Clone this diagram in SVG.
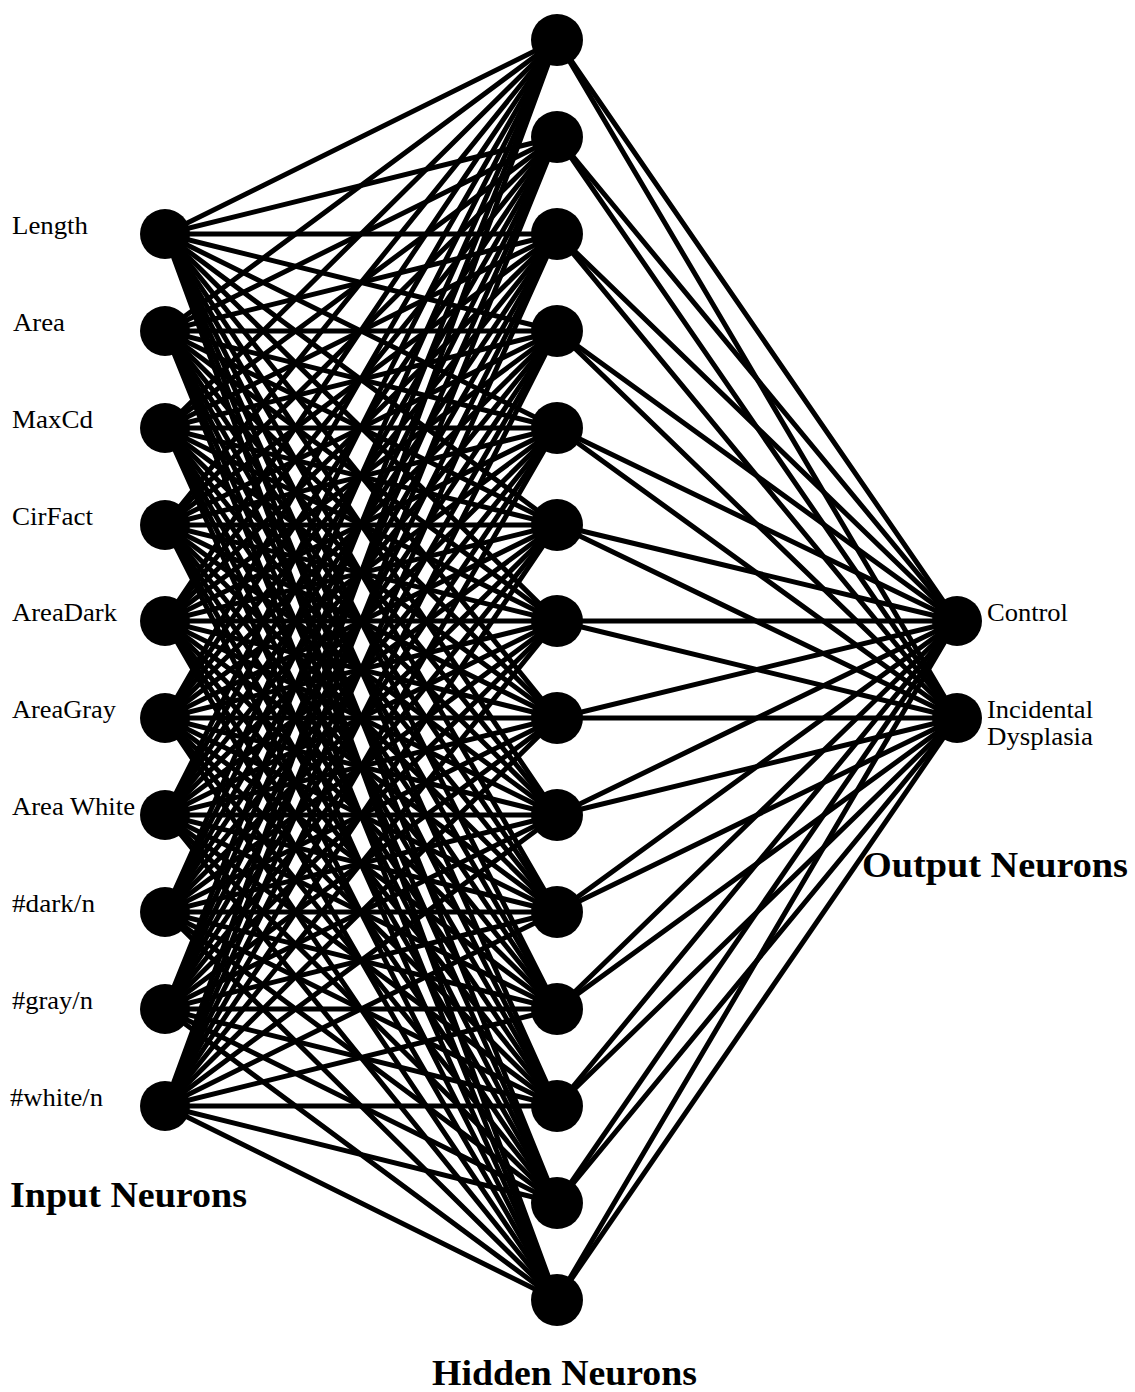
<svg xmlns="http://www.w3.org/2000/svg" width="1135" height="1392" viewBox="0 0 1135 1392">
<style>
.c line{stroke:#000;stroke-width:5;stroke-linecap:round}
.n{fill:#000}
.lb{font-family:"Liberation Serif","Times New Roman",serif;font-size:25px;fill:#000}
.tt{font-family:"Liberation Serif","Times New Roman",serif;font-size:36px;font-weight:bold;fill:#000}
</style>
<rect width="1135" height="1392" fill="#fff"/>
<g id="connectors" class="c">
<g id="in-hid">
<line x1="165" y1="234" x2="557" y2="40"/><line x1="165" y1="234" x2="557" y2="137"/><line x1="165" y1="234" x2="557" y2="234"/><line x1="165" y1="234" x2="557" y2="331"/><line x1="165" y1="234" x2="557" y2="428"/><line x1="165" y1="234" x2="557" y2="525"/><line x1="165" y1="234" x2="557" y2="621"/><line x1="165" y1="234" x2="557" y2="718"/><line x1="165" y1="234" x2="557" y2="815"/><line x1="165" y1="234" x2="557" y2="912"/><line x1="165" y1="234" x2="557" y2="1009"/><line x1="165" y1="234" x2="557" y2="1106"/><line x1="165" y1="234" x2="557" y2="1203"/><line x1="165" y1="234" x2="557" y2="1300"/>
<line x1="165" y1="331" x2="557" y2="40"/><line x1="165" y1="331" x2="557" y2="137"/><line x1="165" y1="331" x2="557" y2="234"/><line x1="165" y1="331" x2="557" y2="331"/><line x1="165" y1="331" x2="557" y2="428"/><line x1="165" y1="331" x2="557" y2="525"/><line x1="165" y1="331" x2="557" y2="621"/><line x1="165" y1="331" x2="557" y2="718"/><line x1="165" y1="331" x2="557" y2="815"/><line x1="165" y1="331" x2="557" y2="912"/><line x1="165" y1="331" x2="557" y2="1009"/><line x1="165" y1="331" x2="557" y2="1106"/><line x1="165" y1="331" x2="557" y2="1203"/><line x1="165" y1="331" x2="557" y2="1300"/>
<line x1="165" y1="428" x2="557" y2="40"/><line x1="165" y1="428" x2="557" y2="137"/><line x1="165" y1="428" x2="557" y2="234"/><line x1="165" y1="428" x2="557" y2="331"/><line x1="165" y1="428" x2="557" y2="428"/><line x1="165" y1="428" x2="557" y2="525"/><line x1="165" y1="428" x2="557" y2="621"/><line x1="165" y1="428" x2="557" y2="718"/><line x1="165" y1="428" x2="557" y2="815"/><line x1="165" y1="428" x2="557" y2="912"/><line x1="165" y1="428" x2="557" y2="1009"/><line x1="165" y1="428" x2="557" y2="1106"/><line x1="165" y1="428" x2="557" y2="1203"/><line x1="165" y1="428" x2="557" y2="1300"/>
<line x1="165" y1="525" x2="557" y2="40"/><line x1="165" y1="525" x2="557" y2="137"/><line x1="165" y1="525" x2="557" y2="234"/><line x1="165" y1="525" x2="557" y2="331"/><line x1="165" y1="525" x2="557" y2="428"/><line x1="165" y1="525" x2="557" y2="525"/><line x1="165" y1="525" x2="557" y2="621"/><line x1="165" y1="525" x2="557" y2="718"/><line x1="165" y1="525" x2="557" y2="815"/><line x1="165" y1="525" x2="557" y2="912"/><line x1="165" y1="525" x2="557" y2="1009"/><line x1="165" y1="525" x2="557" y2="1106"/><line x1="165" y1="525" x2="557" y2="1203"/><line x1="165" y1="525" x2="557" y2="1300"/>
<line x1="165" y1="621" x2="557" y2="40"/><line x1="165" y1="621" x2="557" y2="137"/><line x1="165" y1="621" x2="557" y2="234"/><line x1="165" y1="621" x2="557" y2="331"/><line x1="165" y1="621" x2="557" y2="428"/><line x1="165" y1="621" x2="557" y2="525"/><line x1="165" y1="621" x2="557" y2="621"/><line x1="165" y1="621" x2="557" y2="718"/><line x1="165" y1="621" x2="557" y2="815"/><line x1="165" y1="621" x2="557" y2="912"/><line x1="165" y1="621" x2="557" y2="1009"/><line x1="165" y1="621" x2="557" y2="1106"/><line x1="165" y1="621" x2="557" y2="1203"/><line x1="165" y1="621" x2="557" y2="1300"/>
<line x1="165" y1="718" x2="557" y2="40"/><line x1="165" y1="718" x2="557" y2="137"/><line x1="165" y1="718" x2="557" y2="234"/><line x1="165" y1="718" x2="557" y2="331"/><line x1="165" y1="718" x2="557" y2="428"/><line x1="165" y1="718" x2="557" y2="525"/><line x1="165" y1="718" x2="557" y2="621"/><line x1="165" y1="718" x2="557" y2="718"/><line x1="165" y1="718" x2="557" y2="815"/><line x1="165" y1="718" x2="557" y2="912"/><line x1="165" y1="718" x2="557" y2="1009"/><line x1="165" y1="718" x2="557" y2="1106"/><line x1="165" y1="718" x2="557" y2="1203"/><line x1="165" y1="718" x2="557" y2="1300"/>
<line x1="165" y1="815" x2="557" y2="40"/><line x1="165" y1="815" x2="557" y2="137"/><line x1="165" y1="815" x2="557" y2="234"/><line x1="165" y1="815" x2="557" y2="331"/><line x1="165" y1="815" x2="557" y2="428"/><line x1="165" y1="815" x2="557" y2="525"/><line x1="165" y1="815" x2="557" y2="621"/><line x1="165" y1="815" x2="557" y2="718"/><line x1="165" y1="815" x2="557" y2="815"/><line x1="165" y1="815" x2="557" y2="912"/><line x1="165" y1="815" x2="557" y2="1009"/><line x1="165" y1="815" x2="557" y2="1106"/><line x1="165" y1="815" x2="557" y2="1203"/><line x1="165" y1="815" x2="557" y2="1300"/>
<line x1="165" y1="912" x2="557" y2="40"/><line x1="165" y1="912" x2="557" y2="137"/><line x1="165" y1="912" x2="557" y2="234"/><line x1="165" y1="912" x2="557" y2="331"/><line x1="165" y1="912" x2="557" y2="428"/><line x1="165" y1="912" x2="557" y2="525"/><line x1="165" y1="912" x2="557" y2="621"/><line x1="165" y1="912" x2="557" y2="718"/><line x1="165" y1="912" x2="557" y2="815"/><line x1="165" y1="912" x2="557" y2="912"/><line x1="165" y1="912" x2="557" y2="1009"/><line x1="165" y1="912" x2="557" y2="1106"/><line x1="165" y1="912" x2="557" y2="1203"/><line x1="165" y1="912" x2="557" y2="1300"/>
<line x1="165" y1="1009" x2="557" y2="40"/><line x1="165" y1="1009" x2="557" y2="137"/><line x1="165" y1="1009" x2="557" y2="234"/><line x1="165" y1="1009" x2="557" y2="331"/><line x1="165" y1="1009" x2="557" y2="428"/><line x1="165" y1="1009" x2="557" y2="525"/><line x1="165" y1="1009" x2="557" y2="621"/><line x1="165" y1="1009" x2="557" y2="718"/><line x1="165" y1="1009" x2="557" y2="815"/><line x1="165" y1="1009" x2="557" y2="912"/><line x1="165" y1="1009" x2="557" y2="1009"/><line x1="165" y1="1009" x2="557" y2="1106"/><line x1="165" y1="1009" x2="557" y2="1203"/><line x1="165" y1="1009" x2="557" y2="1300"/>
<line x1="165" y1="1106" x2="557" y2="40"/><line x1="165" y1="1106" x2="557" y2="137"/><line x1="165" y1="1106" x2="557" y2="234"/><line x1="165" y1="1106" x2="557" y2="331"/><line x1="165" y1="1106" x2="557" y2="428"/><line x1="165" y1="1106" x2="557" y2="525"/><line x1="165" y1="1106" x2="557" y2="621"/><line x1="165" y1="1106" x2="557" y2="718"/><line x1="165" y1="1106" x2="557" y2="815"/><line x1="165" y1="1106" x2="557" y2="912"/><line x1="165" y1="1106" x2="557" y2="1009"/><line x1="165" y1="1106" x2="557" y2="1106"/><line x1="165" y1="1106" x2="557" y2="1203"/><line x1="165" y1="1106" x2="557" y2="1300"/>
</g>
<g id="hid-out">
<line x1="557" y1="40" x2="957" y2="621"/><line x1="557" y1="40" x2="957" y2="718"/>
<line x1="557" y1="137" x2="957" y2="621"/><line x1="557" y1="137" x2="957" y2="718"/>
<line x1="557" y1="234" x2="957" y2="621"/><line x1="557" y1="234" x2="957" y2="718"/>
<line x1="557" y1="331" x2="957" y2="621"/><line x1="557" y1="331" x2="957" y2="718"/>
<line x1="557" y1="428" x2="957" y2="621"/><line x1="557" y1="428" x2="957" y2="718"/>
<line x1="557" y1="525" x2="957" y2="621"/><line x1="557" y1="525" x2="957" y2="718"/>
<line x1="557" y1="621" x2="957" y2="621"/><line x1="557" y1="621" x2="957" y2="718"/>
<line x1="557" y1="718" x2="957" y2="621"/><line x1="557" y1="718" x2="957" y2="718"/>
<line x1="557" y1="815" x2="957" y2="621"/><line x1="557" y1="815" x2="957" y2="718"/>
<line x1="557" y1="912" x2="957" y2="621"/><line x1="557" y1="912" x2="957" y2="718"/>
<line x1="557" y1="1009" x2="957" y2="621"/><line x1="557" y1="1009" x2="957" y2="718"/>
<line x1="557" y1="1106" x2="957" y2="621"/><line x1="557" y1="1106" x2="957" y2="718"/>
<line x1="557" y1="1203" x2="957" y2="621"/><line x1="557" y1="1203" x2="957" y2="718"/>
<line x1="557" y1="1300" x2="957" y2="621"/><line x1="557" y1="1300" x2="957" y2="718"/>
</g>
</g>
<g id="input-neurons">
<g id="in-length"><circle class="n" cx="165" cy="234" r="25"/><text class="lb" x="12" y="234" textLength="76" lengthAdjust="spacingAndGlyphs">Length</text></g>
<g id="in-area"><circle class="n" cx="165" cy="331" r="25"/><text class="lb" x="13" y="331" textLength="52" lengthAdjust="spacingAndGlyphs">Area</text></g>
<g id="in-maxcd"><circle class="n" cx="165" cy="428" r="25"/><text class="lb" x="12" y="428" textLength="81" lengthAdjust="spacingAndGlyphs">MaxCd</text></g>
<g id="in-cirfact"><circle class="n" cx="165" cy="525" r="25"/><text class="lb" x="12" y="525" textLength="81" lengthAdjust="spacingAndGlyphs">CirFact</text></g>
<g id="in-areadark"><circle class="n" cx="165" cy="621" r="25"/><text class="lb" x="12" y="621" textLength="105" lengthAdjust="spacingAndGlyphs">AreaDark</text></g>
<g id="in-areagray"><circle class="n" cx="165" cy="718" r="25"/><text class="lb" x="12" y="718" textLength="104" lengthAdjust="spacingAndGlyphs">AreaGray</text></g>
<g id="in-areawhite"><circle class="n" cx="165" cy="815" r="25"/><text class="lb" x="12" y="815" textLength="123" lengthAdjust="spacingAndGlyphs">Area White</text></g>
<g id="in-dark"><circle class="n" cx="165" cy="912" r="25"/><text class="lb" x="12" y="912" textLength="83" lengthAdjust="spacingAndGlyphs">#dark/n</text></g>
<g id="in-gray"><circle class="n" cx="165" cy="1009" r="25"/><text class="lb" x="12" y="1009" textLength="81" lengthAdjust="spacingAndGlyphs">#gray/n</text></g>
<g id="in-white"><circle class="n" cx="165" cy="1106" r="25"/><text class="lb" x="10" y="1106" textLength="93" lengthAdjust="spacingAndGlyphs">#white/n</text></g>
</g>
<g id="hidden-neurons">
<circle id="h1" class="n" cx="557" cy="40" r="26"/>
<circle id="h2" class="n" cx="557" cy="137" r="26"/>
<circle id="h3" class="n" cx="557" cy="234" r="26"/>
<circle id="h4" class="n" cx="557" cy="331" r="26"/>
<circle id="h5" class="n" cx="557" cy="428" r="26"/>
<circle id="h6" class="n" cx="557" cy="525" r="26"/>
<circle id="h7" class="n" cx="557" cy="621" r="26"/>
<circle id="h8" class="n" cx="557" cy="718" r="26"/>
<circle id="h9" class="n" cx="557" cy="815" r="26"/>
<circle id="h10" class="n" cx="557" cy="912" r="26"/>
<circle id="h11" class="n" cx="557" cy="1009" r="26"/>
<circle id="h12" class="n" cx="557" cy="1106" r="26"/>
<circle id="h13" class="n" cx="557" cy="1203" r="26"/>
<circle id="h14" class="n" cx="557" cy="1300" r="26"/>
</g>
<g id="output-neurons">
<g id="out-control"><circle class="n" cx="957" cy="621" r="25"/><text class="lb" x="987" y="621" textLength="81" lengthAdjust="spacingAndGlyphs">Control</text></g>
<g id="out-incidental"><circle class="n" cx="957" cy="718" r="25"/><text class="lb" x="987" y="718" textLength="106" lengthAdjust="spacingAndGlyphs">Incidental</text><text class="lb" x="987" y="745" textLength="106" lengthAdjust="spacingAndGlyphs">Dysplasia</text></g>
</g>
<g id="titles">
<text class="tt" x="10" y="1207" textLength="237" lengthAdjust="spacingAndGlyphs">Input Neurons</text>
<text class="tt" x="432" y="1385" textLength="265" lengthAdjust="spacingAndGlyphs">Hidden Neurons</text>
<text class="tt" x="862" y="877" textLength="266" lengthAdjust="spacingAndGlyphs">Output Neurons</text>
</g>
</svg>
